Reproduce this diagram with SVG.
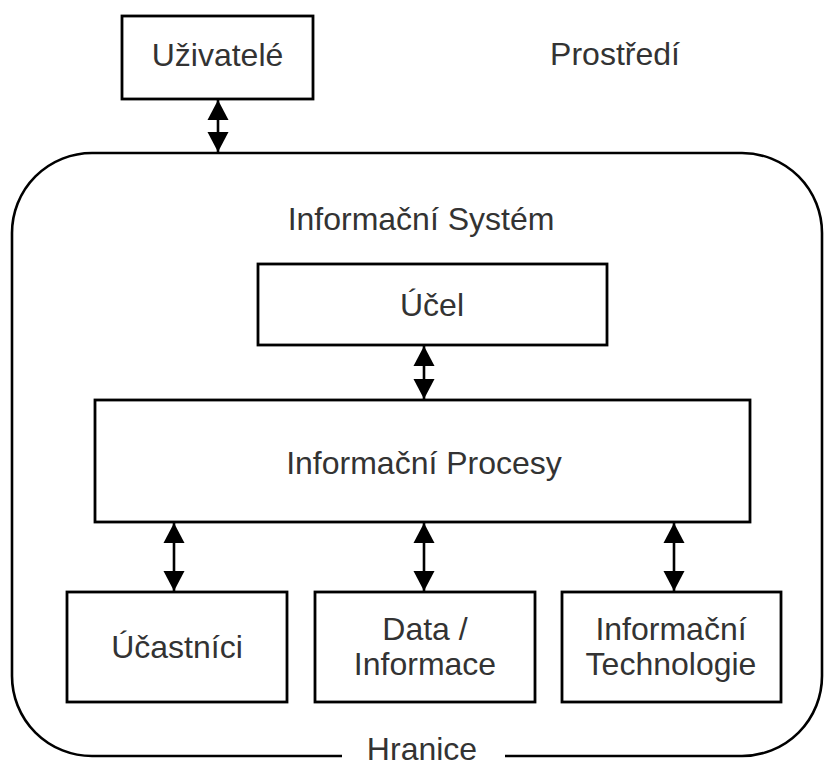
<svg xmlns="http://www.w3.org/2000/svg" width="824" height="768" viewBox="0 0 824 768">
  <style>
    .box { fill: #ffffff; stroke: #000000; stroke-width: 2.8; }
    .boundary { fill: none; stroke: #000000; stroke-width: 2.6; }
    .label { font-family: "Liberation Sans", Arial, sans-serif; font-size: 32px; fill: #333333; text-anchor: middle; }
    .link { stroke: #000000; stroke-width: 2.6; fill: none; marker-start: url(#head); marker-end: url(#head); }
  </style>
  <defs>
    <marker id="head" markerUnits="userSpaceOnUse" markerWidth="22" markerHeight="22" refX="20" refY="11" orient="auto-start-reverse" viewBox="0 0 22 22">
      <path d="M0,0.5 L20,11 L0,21.5 Z" fill="#000000"/>
    </marker>
  </defs>

  <rect width="824" height="768" fill="#ffffff"/>

  <!-- system boundary, open at the bottom for its caption -->
  <g id="boundary">
    <path class="boundary" d="M342,756 H92 A80,80 0 0 1 12,676 V233 A80,80 0 0 1 92,153 H742 A80,80 0 0 1 822,233 V676 A80,80 0 0 1 742,756 H505"/>
    <text class="label" x="422" y="760">Hranice</text>
  </g>

  <g id="environment">
    <text class="label" x="615" y="65">Prostředí</text>
  </g>

  <g id="system-title">
    <text class="label" x="421" y="230">Informační Systém</text>
  </g>

  <g id="users">
    <rect class="box" x="122" y="16" width="191" height="83"/>
    <text class="label" x="217.5" y="66">Uživatelé</text>
  </g>

  <g id="purpose">
    <rect class="box" x="258" y="264" width="349" height="81"/>
    <text class="label" x="432" y="316">Účel</text>
  </g>

  <g id="processes">
    <rect class="box" x="95" y="400" width="655" height="122"/>
    <text class="label" x="424" y="474">Informační Procesy</text>
  </g>

  <g id="participants">
    <rect class="box" x="67" y="592" width="220" height="110"/>
    <text class="label" x="177" y="658">Účastníci</text>
  </g>

  <g id="data">
    <rect class="box" x="315" y="592" width="220" height="110"/>
    <text class="label" x="425" y="640">Data /</text>
    <text class="label" x="425" y="675">Informace</text>
  </g>

  <g id="technology">
    <rect class="box" x="562" y="592" width="219" height="110"/>
    <text class="label" x="671" y="640">Informační</text>
    <text class="label" x="671" y="675">Technologie</text>
  </g>

  <!-- two-way connectors -->
  <g id="connectors">
    <line class="link" x1="218" y1="100" x2="218" y2="152"/>
    <line class="link" x1="424" y1="346" x2="424" y2="399"/>
    <line class="link" x1="174" y1="523" x2="174" y2="591"/>
    <line class="link" x1="424" y1="523" x2="424" y2="591"/>
    <line class="link" x1="674" y1="523" x2="674" y2="591"/>
  </g>
</svg>
